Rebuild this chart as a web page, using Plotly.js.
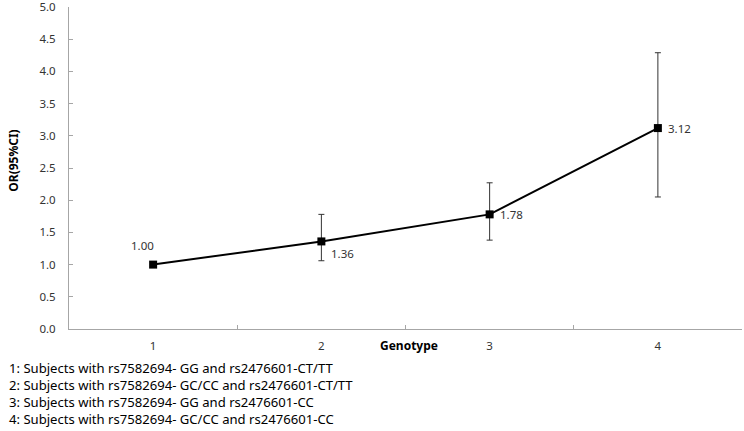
<!DOCTYPE html>
<html>
<head>
<meta charset="utf-8">
<script src="https://cdn.plot.ly/plotly-3.0.1.min.js"></script>
<style>
  html, body { margin: 0; padding: 0; background: #fff; }
  #chart { width: 744px; height: 431px; }
</style>
</head>
<body>
<div id="chart"></div>
<script>
var genotypes = [1, 2, 3, 4];
var orValues = [1.00, 1.36, 1.78, 3.12];
var ciUpper = [1.00, 1.78, 2.27, 4.29];
var ciLower = [1.00, 1.06, 1.38, 2.05];
var valueLabels = ['1.00', '1.36', '1.78', '3.12'];
var yTicks = [0, 0.5, 1, 1.5, 2, 2.5, 3, 3.5, 4, 4.5, 5];
var legendLines = [
  '1: Subjects with rs7582694- GG and rs2476601-CT/TT',
  '2: Subjects with rs7582694- GC/CC and rs2476601-CT/TT',
  '3: Subjects with rs7582694- GG and rs2476601-CC',
  '4: Subjects with rs7582694- GC/CC and rs2476601-CC'
];
// pixel offsets of the value labels from their points
var labelDx = [-11, 21, 22, 22];
var labelDy = [19, -12, 0, 0];

var font = 'Noto Sans, Open Sans, sans-serif';
var cText = '#333333';
var cAxis = '#a6a6a6';

var plus = orValues.map(function (v, i) { return ciUpper[i] - v; });
var minus = orValues.map(function (v, i) { return v - ciLower[i]; });

var data = [{
  x: genotypes,
  y: orValues,
  type: 'scatter',
  mode: 'lines+markers',
  line: {color: '#000000', width: 2},
  marker: {symbol: 'square', size: 8, color: '#000000'},
  error_y: {type: 'data', symmetric: false, array: plus, arrayminus: minus,
            color: '#333333', thickness: 1, width: 3},
  cliponaxis: false
}, {
  // invisible trace for the between-category tick axis
  x: genotypes, y: orValues, xaxis: 'x2', type: 'scatter', mode: 'none',
  hoverinfo: 'skip', showlegend: false
}];

var annotations = genotypes.map(function (g, i) {
  return {
    text: valueLabels[i], x: g, y: orValues[i], xref: 'x', yref: 'y',
    xshift: labelDx[i], yshift: labelDy[i], showarrow: false,
    xanchor: 'center', yanchor: 'middle',
    font: {family: font, size: 11.5, color: cText}
  };
});

annotations.push({
  text: '<b>OR(95%CI)</b>',
  xref: 'paper', yref: 'paper',
  x: -0.083, y: 0.523,
  xanchor: 'center', yanchor: 'middle',
  textangle: -90, showarrow: false,
  font: {family: font, size: 12, color: '#000000'}
}, {
  text: '<b>Genotype</b>',
  xref: 'paper', yref: 'paper',
  x: 0.505, y: 0, yshift: -16,
  xanchor: 'center', yanchor: 'middle',
  showarrow: false,
  font: {family: font, size: 12, color: '#000000'}
}, {
  text: legendLines.join('<br>'),
  xref: 'paper', yref: 'paper',
  x: -0.092, y: 0, yshift: -28,
  xanchor: 'left', yanchor: 'top', align: 'left',
  showarrow: false,
  font: {family: font, size: 13.1, color: '#000000'}
});

var layout = {
  width: 744,
  height: 431,
  margin: {l: 69, r: 2, t: 7, b: 102},
  paper_bgcolor: '#ffffff',
  plot_bgcolor: '#ffffff',
  showlegend: false,
  font: {family: font, size: 11.5, color: cText},
  xaxis: {
    range: [0.5, 4.5],
    tickvals: genotypes,
    ticktext: genotypes.map(String),
    ticks: '',
    ticklabelstandoff: 6,
    showgrid: false,
    zeroline: false,
    showline: true,
    linecolor: cAxis,
    linewidth: 1,
    tickfont: {family: font, size: 11.5, color: cText}
  },
  xaxis2: {
    overlaying: 'x',
    matches: 'x',
    range: [0.5, 4.5],
    tickvals: [1.5, 2.5, 3.5],
    ticktext: ['', '', ''],
    ticks: 'inside',
    ticklen: 4,
    tickcolor: cAxis,
    showgrid: false,
    zeroline: false,
    showline: false
  },
  yaxis: {
    range: [0, 5],
    tickvals: yTicks,
    tickformat: '.1f',
    ticks: 'inside',
    ticklen: 4,
    tickcolor: cAxis,
    ticklabelstandoff: 10,
    ticklabeloverflow: 'allow',
    showgrid: false,
    zeroline: false,
    showline: true,
    linecolor: cAxis,
    linewidth: 1,
    tickfont: {family: font, size: 11.5, color: cText}
  },
  annotations: annotations
};

Plotly.newPlot('chart', data, layout, {displayModeBar: false, staticPlot: true});
</script>
</body>
</html>
